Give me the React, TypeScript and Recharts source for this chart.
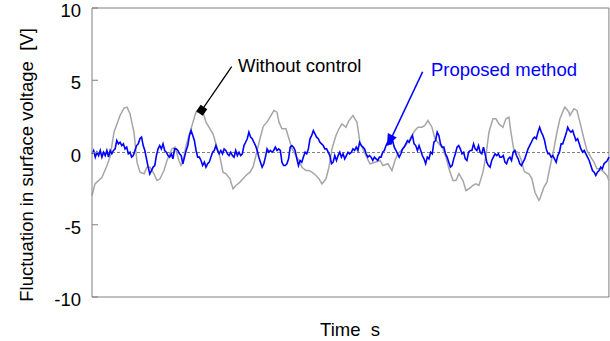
import React from 'react';
import {
  LineChart,
  Line,
  XAxis,
  YAxis,
  ReferenceLine,
  ReferenceDot,
  Label,
} from 'recharts';

// time axis runs 0..5.17 (no tick labels in the original figure)
const TIME_MAX = 5.17;
const yTicks = [10, 5, 0, -5, -10];

// "Without control" trace: [time, voltage]
const withoutControl: [number, number][] = [
  [0.0, -2.98], [0.03, -2.17], [0.1, -1.71], [0.15, -0.9], [0.18, -0.32], [0.22, 1.4],
  [0.25, 1.98], [0.28, 2.56], [0.32, 3.07], [0.35, 3.14], [0.38, 2.68], [0.42, 1.4],
  [0.45, -0.67], [0.48, -1.36], [0.52, -1.47], [0.55, -1.02], [0.58, -1.02], [0.62, -1.47],
  [0.65, -1.94], [0.68, -1.82], [0.72, -1.25], [0.75, -0.55], [0.8, 0.26], [0.83, 0.37],
  [0.87, -0.55], [0.89, -0.9], [0.91, -0.67], [0.94, 0.48], [0.98, 1.4], [1.01, 2.1],
  [1.04, 2.79], [1.09, 2.91], [1.11, 2.79], [1.14, 2.1], [1.18, 1.64], [1.21, 1.29],
  [1.24, 0.6], [1.28, -0.32], [1.31, -1.36], [1.34, -1.47], [1.38, -1.82], [1.41, -2.51],
  [1.44, -2.28], [1.48, -2.05], [1.51, -1.82], [1.54, -1.59], [1.58, -1.36], [1.61, -1.02],
  [1.64, -0.21], [1.68, 0.95], [1.71, 1.75], [1.72, 1.87], [1.75, 2.1], [1.79, 2.56],
  [1.82, 2.91], [1.85, 2.79], [1.87, 2.1], [1.9, 1.64], [1.94, 1.64], [1.97, 0.95],
  [2.0, 0.26], [2.04, -0.21], [2.07, -0.55], [2.1, -1.02], [2.14, -1.25], [2.17, -1.25],
  [2.2, -1.36], [2.24, -1.59], [2.27, -1.82], [2.3, -2.17], [2.34, -1.82], [2.37, -1.02],
  [2.4, 0.26], [2.44, 1.18], [2.47, 1.64], [2.5, 1.98], [2.54, 1.75], [2.57, 2.21],
  [2.61, 2.56], [2.65, 2.1], [2.68, 0.71], [2.73, -0.09], [2.78, -0.78], [2.83, -0.67],
  [2.88, -0.55], [2.91, -0.9], [2.96, -0.78], [3.0, -1.25], [3.03, -0.55], [3.06, -0.09],
  [3.11, 0.26], [3.16, 0.71], [3.2, 1.18], [3.23, 1.52], [3.26, 1.75], [3.3, 1.75],
  [3.33, 1.87], [3.36, 2.21], [3.4, 1.75], [3.43, 0.95], [3.47, 0.6], [3.51, 0.26],
  [3.54, -0.32], [3.57, -1.13], [3.61, -1.94], [3.64, -1.94], [3.67, -1.47], [3.71, -1.94],
  [3.74, -2.63], [3.77, -2.51], [3.81, -2.28], [3.84, -2.17], [3.87, -2.28], [3.91, -1.36],
  [3.94, -0.21], [3.97, 1.4], [4.01, 2.33], [4.04, 2.33], [4.07, 1.98], [4.11, 1.75],
  [4.14, 2.33], [4.17, 2.44], [4.19, 1.4], [4.22, 0.14], [4.26, 0.02], [4.29, -0.44],
  [4.32, -1.25], [4.33, -1.36], [4.37, -1.47], [4.4, -1.82], [4.43, -2.75], [4.47, -3.32],
  [4.48, -3.2], [4.52, -2.4], [4.55, -2.05], [4.58, -1.02], [4.62, 0.26], [4.65, 1.4],
  [4.68, 2.33], [4.72, 3.02], [4.73, 3.14], [4.77, 2.79], [4.78, 2.56], [4.82, 3.02],
  [4.85, 2.91], [4.88, 2.1], [4.92, 0.95], [4.95, 0.14], [4.98, -0.21], [5.02, -0.67],
  [5.05, -1.13], [5.08, -1.13], [5.12, -1.36], [5.15, -1.59], [5.17, -1.94],
];

// "Proposed method" trace, sampled at a fixed interval
const SAMPLE_DT = 0.01652;
const proposedMethod = [
  -0.09, 0.14, -0.32, 0.02, -0.21, 0.14, -0.32, 0.02, -0.21, 0.14,
  -0.32, 0.14, -0.09, 0.14, 0.25, 0.83, 0.6, 0.71, 0.48, 0.6,
  0.25, 0.37, -0.09, 0.02, -0.32, -0.21, 0.14, 0.48, 0.6, 0.95,
  1.06, 0.48, 0.14, -0.44, -1.01, -1.48, -1.25, -1.01, -0.9, -0.21,
  0.25, 0.48, 0.25, 0.6, 0.14, 0.02, -0.21, -0.32, -0.09, -0.44,
  0.25, 0.25,
  0.14, -0.09, -0.21, -0.78, -0.32, 0.14, 0.48, 1.18, 1.52, 1.18,
  0.83, 0.14, -0.32, -0.32, -0.55, -0.9, -0.67, -1.01, -0.78, -0.67,
  -0.32, 0.02, 0.14, 0.48, 0.14, -0.09, 0.14, -0.09, 0.25, 0.14,
  -0.09, -0.21, 0.02, -0.21, -0.32, 0.14, -0.21, 0.02, -0.21, -0.09,
  0.48, 0.71, 0.95, 1.41, 1.06, 0.95, 0.71, 0.48, 0.14, -0.32,
  -0.67, -1.01,
  -0.78, -0.32, 0.25, 0.02, 0.14, 0.02, 0.14, 0.37, 0.14, 0.25,
  0.14, -0.67, -0.9, -0.9, -0.78, -0.44, 0.37, 0.48, 0.37, 0.14,
  -0.44, -0.9, -0.55, -0.67, -0.32, 0.02, -0.09, 0.25, 0.95, 1.18,
  1.52, 1.29, 1.06, 0.95, 0.71, 0.6, 0.48, 0.25, 0.25, 0.02,
  -0.21, -0.78, -0.67, -0.21, -0.55, -0.21, 0.02, -0.32, -0.09, -0.44,
  -0.21, 0.02,
  -0.09, 0.02, 0.25, 0.14, 0.37, 0.14, 0.71, 0.48, 0.37, 0.25,
  -0.09, -0.32, -0.21, -0.32, -0.55, -0.32, -0.44, -0.55, -0.32, -0.32,
  0.02, 0.14, 0.48, 0.71, 0.6, 0.6, 0.83, 0.37, 0.14, -0.09,
  -0.32, -0.09, 0.25, 0.37, 0.6, 0.83, 0.71, 0.95, 1.18, 0.6,
  0.48, 0.14, 0.48, 0.14, -0.21, -0.44, -0.78, -0.32, -0.44, 0.02,
  -0.09, 0.71,
  0.83, 1.41, 1.18, 0.6, 0.37, 0.37, -0.09, -0.32, -0.67, -1.01,
  -0.9, -0.44, -0.09, 0.37, 0.48, 0.25, -0.09, 0.02, -0.44, -0.55,
  0.02, 0.14, 0.14, 0.6, 0.25, 0.14, 0.48, 0.02, -0.09, 0.37,
  -0.09, -0.67, -0.9, -1.01, -0.55, -0.32, -0.09, -0.21, -0.09, -0.32,
  -0.32, -0.21, -0.67, -0.78, -0.44, -0.32, -0.55, 0.02, 0.14, -0.21,
  -0.44, -0.78,
  -0.9, -0.67, -0.44, -0.09, 0.25, 0.48, 0.71, 0.95, 1.06, 0.95,
  1.41, 1.75, 1.41, 1.18, 0.83, 0.25, -0.09, -0.09, -0.32, -0.21,
  -0.44, -0.67, -0.21, 0.02, 0.6, 0.6, 0.95, 1.29, 1.75, 1.52,
  1.41, 1.52, 1.18, 0.83, 0.95, 0.6, 0.25, 0.02, 0.14, -0.09,
  -0.32, -0.55, -0.9, -1.25, -1.36, -1.59, -1.36, -1.25, -1.01, -1.13,
  -0.78, -0.67, -0.55, -0.32,
];

const grayData = withoutControl.map(([t, v]) => ({ t, v }));
const blueData = proposedMethod.map((v, i) => ({ t: +(i * SAMPLE_DT).toFixed(4), v }));

const FONT = '"Liberation Sans", Arial, sans-serif';
const AXIS = '#808080';
const Y_AXIS_W = 92;

const YTick = (props: any) => {
  const { y, payload } = props;
  return (
    <g>
      <line x1={Y_AXIS_W} x2={Y_AXIS_W + 6} y1={y} y2={y} stroke={AXIS} />
      <text x={81} y={y + 9} textAnchor="end" fontSize={18.5} fontFamily={FONT} fill="#000">
        {payload.value}
      </text>
    </g>
  );
};

const BlackMarker = (props: any) => (
  <rect
    x={-4}
    y={-4}
    width={8}
    height={8}
    fill="#000"
    transform={`translate(${props.cx},${props.cy}) rotate(124.7)`}
  />
);

const BlueArrow = (props: any) => (
  <path
    d="M0,0 L-12,-5 L-12,5 Z"
    fill="#0000ff"
    transform={`translate(${props.cx},${props.cy}) rotate(116.3)`}
  />
);

const textShape = (value: string, color: string) => (props: any) => (
  <text x={props.cx} y={props.cy} fontSize={18.5} fontFamily={FONT} fill={color}>
    {value}
  </text>
);

export default function App() {
  return (
    <div style={{ position: 'absolute', left: 0, top: 0, background: '#fff' }}>
      <LineChart
        width={610}
        height={341}
        margin={{ top: 8, right: 1, bottom: 0, left: 0 }}
        style={{ fontFamily: FONT }}
      >
        <XAxis
          type="number"
          dataKey="t"
          domain={[0, TIME_MAX]}
          ticks={[]}
          tick={false}
          tickLine={false}
          axisLine={{ stroke: AXIS }}
          height={44}
        >
          <Label
            content={() => (
              <text x={350} y={335.5} textAnchor="middle" fontSize={18.5} fontFamily={FONT} fill="#000">
                {'Time\u00a0\u00a0s'}
              </text>
            )}
          />
        </XAxis>
        <YAxis
          type="number"
          domain={[-10, 10]}
          ticks={yTicks}
          tick={<YTick />}
          tickLine={false}
          axisLine={{ stroke: AXIS }}
          width={Y_AXIS_W}
          interval={0}
        >
          <Label
            content={() => (
              <text
                x={33}
                y={165}
                transform="rotate(-90 33 165)"
                textAnchor="middle"
                fontSize={18.5}
                fontFamily={FONT}
                fill="#000"
              >
                {'Fluctuation in surface voltage\u00a0\u00a0[V]'}
              </text>
            )}
          />
        </YAxis>

        <ReferenceLine y={10} stroke={AXIS} />
        <ReferenceLine x={TIME_MAX} stroke={AXIS} />
        <ReferenceLine y={0} stroke={AXIS} strokeDasharray="3 2" />

        <Line
          data={grayData}
          dataKey="v"
          type="linear"
          stroke="#a6a6a6"
          strokeWidth={1.5}
          dot={false}
          isAnimationActive={false}
        />
        <Line
          data={blueData}
          dataKey="v"
          type="linear"
          stroke="#0000ff"
          strokeWidth={1.6}
          dot={false}
          isAnimationActive={false}
        />

        <ReferenceLine
          segment={[{ x: 1.397, y: 5.94 }, { x: 1.097, y: 2.92 }]}
          stroke="#000"
          strokeWidth={1.3}
        />
        <ReferenceDot x={1.097} y={2.92} shape={<BlackMarker />} />
        <ReferenceDot x={1.46} y={5.55} shape={textShape('Without control', '#000')} />

        <ReferenceLine
          segment={[{ x: 3.307, y: 5.59 }, { x: 2.96, y: 0.5 }]}
          stroke="#0000ff"
          strokeWidth={1.6}
        />
        <ReferenceDot x={2.95} y={0.45} shape={<BlueArrow />} />
        <ReferenceDot x={3.39} y={5.26} shape={textShape('Proposed method', '#0000ff')} />
      </LineChart>
    </div>
  );
}
